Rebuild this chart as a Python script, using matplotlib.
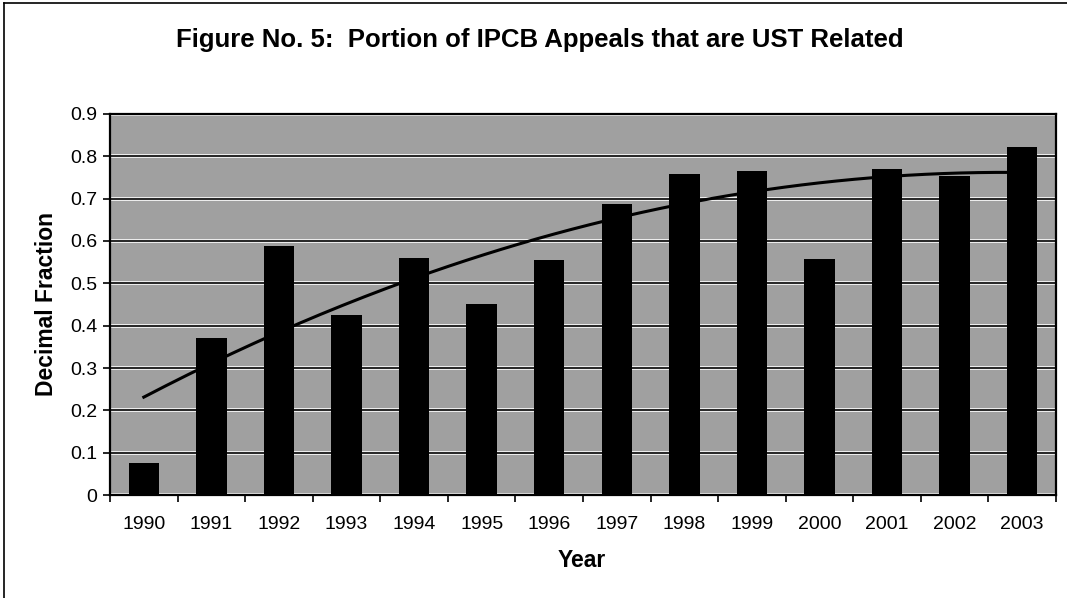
import numpy as np
import matplotlib
matplotlib.use("Agg")
import matplotlib.pyplot as plt
from matplotlib.lines import Line2D

years = ["1990", "1991", "1992", "1993", "1994", "1995", "1996",
         "1997", "1998", "1999", "2000", "2001", "2002", "2003"]
fractions = [0.075, 0.37, 0.588, 0.425, 0.561, 0.452, 0.555,
             0.687, 0.758, 0.766, 0.557, 0.770, 0.753, 0.823]
y_ticks = [0, 0.1, 0.2, 0.3, 0.4, 0.5, 0.6, 0.7, 0.8, 0.9]
y_tick_labels = ["0", "0.1", "0.2", "0.3", "0.4", "0.5", "0.6", "0.7", "0.8", "0.9"]

plt.rcParams['font.family'] = ['Liberation Sans', 'DejaVu Sans']

fig = plt.figure(figsize=(10.67, 5.98), dpi=100)
ax = fig.add_axes([0.1031, 0.1722, 0.8866, 0.6372])

x = np.arange(len(years))
ax.set_facecolor('#a0a0a0')
ax.bar(x, fractions, width=0.45, color='black', zorder=3)

# 2nd-order polynomial trendline (as Excel would fit)
coef = np.polyfit(x, fractions, 2)
xs = np.linspace(x[0], x[-1], 200)
ax.plot(xs, np.polyval(coef, xs), color='black', lw=2.2, zorder=4)

ax.set_xlim(-0.5, len(years) - 0.5)
ax.set_ylim(0, 0.9)
ax.set_yticks(y_ticks)
ax.set_yticklabels(y_tick_labels, fontsize=14)
ax.yaxis.grid(True, color='white', lw=2.6, zorder=1)
for yv in y_ticks[1:-1]:
    ax.axhline(yv, color='black', lw=1.2, zorder=2)

ax.set_xticks(x)
ax.set_xticklabels(years, fontsize=14)
ax.set_xticks(np.arange(len(years) + 1) - 0.5, minor=True)
ax.tick_params(axis='x', which='major', length=0, pad=15)
ax.tick_params(axis='x', which='minor', length=5, width=1.2, direction='out')
ax.tick_params(axis='y', length=5, width=1.2, direction='out', pad=4)

for s in ax.spines.values():
    s.set_linewidth(1.6)
    s.set_color('black')

fig.text(0.506, 0.933, "Figure No. 5:  Portion of IPCB Appeals that are UST Related",
         ha='center', va='center', fontsize=18.5, fontweight='bold')
fig.text(0.044, 0.491, "Decimal Fraction", rotation=90, ha='center', va='center',
         fontsize=16.5, fontweight='bold')
fig.text(0.5455, 0.0635, "Year", ha='center', va='center', fontsize=16.5, fontweight='bold')

# outer chart frame
fig.add_artist(Line2D([0.004, 0.004], [0.0, 0.995], color='black', lw=1.2, transform=fig.transFigure))
fig.add_artist(Line2D([0.004, 1.0], [0.995, 0.995], color='black', lw=1.2, transform=fig.transFigure))

fig.savefig("out.png", dpi=100)
